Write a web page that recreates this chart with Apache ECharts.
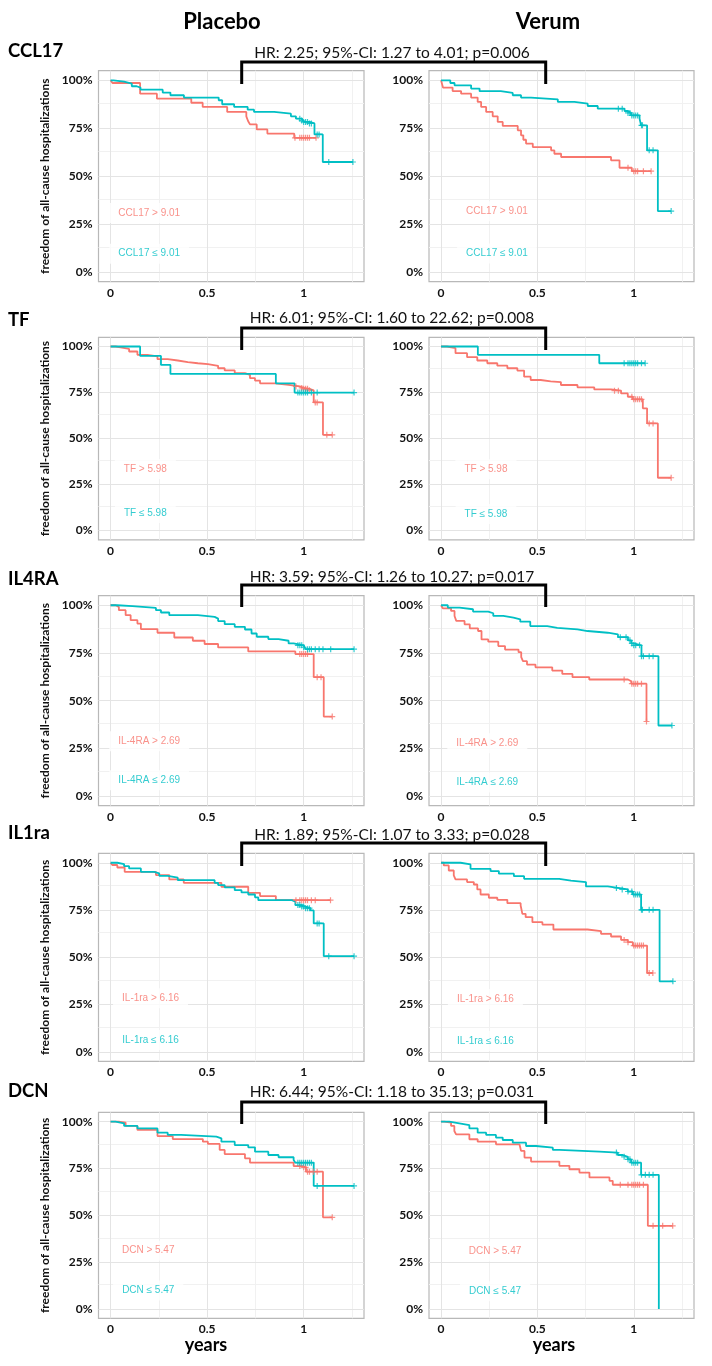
<!DOCTYPE html>
<html>
<head>
<meta charset="utf-8">
<script src="https://cdn.jsdelivr.net/npm/echarts@6/dist/echarts.min.js"></script>
<style>
html,body{margin:0;padding:0;background:#fff;}
#chart{width:712px;height:1366px;}
</style>
</head>
<body>
<div id="chart"></div>
<script>
// ---------- text / categories ----------
const columnTitles = ['Placebo', 'Verum'];
const markerNames = ['CCL17', 'TF', 'IL4RA', 'IL1ra', 'DCN'];
const hrLabels = [
  'HR: 2.25; 95%-CI: 1.27 to 4.01; p=0.006',
  'HR: 6.01; 95%-CI: 1.60 to 22.62; p=0.008',
  'HR: 3.59; 95%-CI: 1.26 to 10.27; p=0.017',
  'HR: 1.89; 95%-CI: 1.07 to 3.33; p=0.028',
  'HR: 6.44; 95%-CI: 1.18 to 35.13; p=0.031'
];
const highLabels = ['CCL17 > 9.01', 'TF > 5.98', 'IL-4RA > 2.69', 'IL-1ra > 6.16', 'DCN > 5.47'];
const lowLabels = ['CCL17 \u2264 9.01', 'TF \u2264 5.98', 'IL-4RA \u2264 2.69', 'IL-1ra \u2264 6.16', 'DCN \u2264 5.47'];
const yAxisTitle = 'freedom of all-cause hospitalizations';
const xAxisTitle = 'years';
const xTicks = [0, 0.5, 1];
const yTicks = [0, 0.25, 0.5, 0.75, 1];
const xMinorGrid = [0.25, 0.75, 1.25];
const yMinorGrid = [0.125, 0.375, 0.625, 0.875];

// ---------- survival curves [years, survival] ----------
const ccl17PlaceboHigh = [[0,1],[0.01,0.986],[0.153,0.93],[0.24,0.904],[0.418,0.883],[0.477,0.861],[0.604,0.835],[0.703,0.812],[0.712,0.788],[0.722,0.77],[0.757,0.744],[0.812,0.722],[0.951,0.70],[1.064,0.70]];
const ccl17PlaceboHighCens = [0.955,0.98,0.99,1.0,1.01,1.02,1.03,1.064];
const ccl17PlaceboLow = [[0,1],[0.015,0.993],[0.07,0.983],[0.11,0.969],[0.135,0.962],[0.155,0.951],[0.27,0.936],[0.31,0.922],[0.38,0.91],[0.56,0.896],[0.578,0.875],[0.64,0.861],[0.71,0.847],[0.743,0.835],[0.847,0.826],[0.934,0.812],[0.96,0.80],[0.99,0.79],[1.0,0.783],[1.03,0.775],[1.056,0.718],[1.099,0.574],[1.255,0.574]];
const ccl17PlaceboLowCens = [0.98,0.99,1.0,1.01,1.02,1.03,1.04,1.07,1.08,1.13,1.255];
const ccl17VerumHigh = [[0,1],[0.01,0.962],[0.06,0.944],[0.104,0.93],[0.156,0.91],[0.19,0.887],[0.208,0.861],[0.234,0.835],[0.268,0.812],[0.294,0.783],[0.32,0.762],[0.398,0.739],[0.415,0.713],[0.427,0.69],[0.441,0.67],[0.476,0.652],[0.571,0.635],[0.588,0.617],[0.623,0.60],[0.882,0.583],[0.926,0.544],[0.99,0.526],[1.09,0.526]];
const ccl17VerumHighCens = [0.97,1.0,1.01,1.02,1.05,1.09];
const ccl17VerumLow = [[0,1],[0.048,0.986],[0.07,0.974],[0.156,0.957],[0.2,0.943],[0.31,0.934],[0.372,0.922],[0.415,0.91],[0.467,0.90],[0.606,0.887],[0.692,0.878],[0.761,0.866],[0.813,0.852],[0.952,0.84],[0.969,0.83],[0.986,0.817],[1.03,0.80],[1.038,0.765],[1.069,0.635],[1.125,0.318],[1.194,0.318]];
const ccl17VerumLowCens = [0.92,0.94,0.97,0.98,0.99,1.0,1.01,1.02,1.04,1.045,1.08,1.1,1.194];

const tfPlaceboHigh = [[0,1],[0.026,0.995],[0.052,0.987],[0.096,0.973],[0.139,0.955],[0.191,0.946],[0.243,0.931],[0.296,0.924],[0.348,0.915],[0.4,0.909],[0.452,0.904],[0.504,0.895],[0.557,0.882],[0.591,0.87],[0.643,0.855],[0.696,0.846],[0.722,0.828],[0.748,0.815],[0.774,0.80],[0.852,0.792],[0.922,0.783],[0.98,0.775],[1.0,0.77],[1.03,0.762],[1.052,0.696],[1.10,0.52],[1.148,0.52]];
const tfPlaceboHighCens = [0.96,0.99,1.0,1.01,1.02,1.03,1.06,1.07,1.12,1.148];
const tfPlaceboLow = [[0,1],[0.153,0.949],[0.261,0.90],[0.31,0.851],[0.856,0.80],[0.953,0.75],[1.261,0.75]];
const tfPlaceboLowCens = [0.97,0.98,0.99,1.0,1.01,1.02,1.04,1.07,1.261];
const tfVerumHigh = [[0,1],[0.031,0.991],[0.075,0.964],[0.135,0.942],[0.188,0.924],[0.24,0.909],[0.292,0.896],[0.344,0.882],[0.396,0.869],[0.431,0.836],[0.465,0.818],[0.517,0.811],[0.569,0.807],[0.622,0.791],[0.708,0.778],[0.795,0.767],[0.882,0.76],[0.934,0.745],[0.969,0.727],[0.995,0.713],[1.047,0.664],[1.069,0.582],[1.125,0.287],[1.194,0.287]];
const tfVerumHighCens = [0.9,0.92,0.99,1.0,1.01,1.02,1.03,1.04,1.08,1.1,1.194];
const tfVerumLow = [[0,1],[0.191,0.955],[0.821,0.909],[1.059,0.909]];
const tfVerumLowCens = [0.95,0.97,0.98,0.99,1.0,1.01,1.02,1.04,1.059];

const il4raPlaceboHigh = [[0,1],[0.026,0.991],[0.043,0.974],[0.078,0.948],[0.104,0.922],[0.139,0.904],[0.157,0.875],[0.243,0.856],[0.33,0.831],[0.426,0.814],[0.487,0.797],[0.557,0.779],[0.713,0.758],[0.957,0.744],[1.052,0.623],[1.104,0.417],[1.148,0.417]];
const il4raPlaceboHighCens = [0.98,0.99,1.0,1.01,1.02,1.07,1.09,1.148];
const il4raPlaceboLow = [[0,1],[0.035,0.995],[0.113,0.986],[0.235,0.974],[0.261,0.962],[0.304,0.948],[0.452,0.939],[0.539,0.93],[0.557,0.917],[0.591,0.901],[0.643,0.887],[0.696,0.873],[0.73,0.852],[0.757,0.835],[0.817,0.823],[0.87,0.814],[0.922,0.80],[0.948,0.79],[1.0,0.78],[1.01,0.77],[1.261,0.77]];
const il4raPlaceboLowCens = [0.97,0.98,0.99,1.0,1.02,1.03,1.04,1.06,1.08,1.1,1.14,1.261];
const il4raVerumHigh = [[0,1],[0.009,0.984],[0.052,0.97],[0.07,0.944],[0.079,0.918],[0.122,0.9],[0.149,0.879],[0.192,0.865],[0.21,0.821],[0.245,0.809],[0.297,0.786],[0.332,0.768],[0.402,0.754],[0.416,0.728],[0.425,0.707],[0.446,0.689],[0.49,0.675],[0.577,0.658],[0.629,0.64],[0.682,0.623],[0.769,0.611],[0.97,0.602],[0.987,0.589],[1.066,0.391]];
const il4raVerumHighCens = [0.95,0.99,1.0,1.01,1.02,1.04,1.066];
const il4raVerumLow = [[0,1],[0.035,0.988],[0.096,0.979],[0.166,0.967],[0.245,0.958],[0.271,0.944],[0.323,0.935],[0.376,0.926],[0.411,0.914],[0.463,0.891],[0.551,0.882],[0.603,0.874],[0.708,0.865],[0.76,0.856],[0.865,0.847],[0.918,0.833],[0.97,0.816],[0.987,0.80],[1.0,0.79],[1.04,0.733],[1.128,0.37],[1.198,0.37]];
const il4raVerumLowCens = [0.93,0.96,0.98,0.99,1.0,1.01,1.03,1.04,1.05,1.08,1.1,1.198];

const il1raPlaceboHigh = [[0,1],[0.009,0.988],[0.035,0.975],[0.073,0.952],[0.235,0.935],[0.304,0.912],[0.379,0.894],[0.574,0.873],[0.713,0.841],[0.774,0.824],[0.856,0.802],[1.139,0.802]];
const il1raPlaceboHighCens = [0.96,0.98,0.99,1.0,1.01,1.02,1.04,1.06,1.139];
const il1raPlaceboLow = [[0,1],[0.035,0.993],[0.07,0.982],[0.096,0.97],[0.157,0.952],[0.226,0.944],[0.252,0.931],[0.296,0.921],[0.348,0.908],[0.539,0.894],[0.557,0.882],[0.591,0.87],[0.643,0.855],[0.678,0.843],[0.713,0.832],[0.748,0.817],[0.765,0.802],[0.939,0.794],[0.957,0.776],[0.99,0.768],[1.01,0.76],[1.035,0.748],[1.052,0.679],[1.104,0.506],[1.261,0.506]];
const il1raPlaceboLowCens = [0.97,0.98,0.99,1.0,1.01,1.02,1.03,1.07,1.08,1.13,1.261];
const il1raVerumHigh = [[0,1],[0.014,0.986],[0.04,0.959],[0.066,0.933],[0.075,0.912],[0.135,0.898],[0.17,0.885],[0.188,0.859],[0.205,0.832],[0.248,0.815],[0.292,0.804],[0.344,0.786],[0.413,0.774],[0.422,0.73],[0.439,0.712],[0.474,0.686],[0.526,0.673],[0.583,0.647],[0.76,0.638],[0.83,0.624],[0.882,0.61],[0.934,0.592],[0.969,0.58],[0.995,0.562],[1.069,0.417],[1.099,0.417]];
const il1raVerumHighCens = [0.95,0.97,1.0,1.01,1.02,1.03,1.04,1.05,1.08,1.099];
const il1raVerumLow = [[0,1],[0.101,0.991],[0.153,0.968],[0.257,0.956],[0.3,0.942],[0.378,0.929],[0.431,0.915],[0.613,0.906],[0.674,0.898],[0.752,0.875],[0.865,0.867],[0.917,0.859],[0.969,0.848],[0.995,0.832],[1.038,0.751],[1.134,0.373],[1.203,0.373]];
const il1raVerumLowCens = [0.91,0.94,0.97,0.99,1.0,1.01,1.02,1.03,1.04,1.045,1.08,1.1,1.203];

const dcnPlaceboHigh = [[0,1],[0.043,0.995],[0.078,0.977],[0.139,0.956],[0.243,0.923],[0.322,0.907],[0.478,0.893],[0.504,0.881],[0.565,0.849],[0.591,0.827],[0.696,0.804],[0.722,0.781],[0.948,0.763],[0.991,0.756],[1.012,0.733],[1.10,0.489],[1.148,0.489]];
const dcnPlaceboHighCens = [0.98,1.0,1.01,1.02,1.03,1.05,1.07,1.148];
const dcnPlaceboLow = [[0,1],[0.026,0.991],[0.07,0.977],[0.139,0.964],[0.243,0.941],[0.296,0.929],[0.365,0.92],[0.548,0.911],[0.574,0.893],[0.643,0.875],[0.713,0.863],[0.748,0.84],[0.817,0.822],[0.87,0.81],[0.948,0.795],[0.957,0.781],[1.052,0.657],[1.261,0.657]];
const dcnPlaceboLowCens = [0.97,0.98,0.99,1.0,1.01,1.02,1.03,1.04,1.07,1.261];
const dcnVerumHigh = [[0,1],[0.017,0.995],[0.052,0.977],[0.069,0.95],[0.078,0.932],[0.147,0.906],[0.19,0.893],[0.285,0.879],[0.407,0.87],[0.415,0.844],[0.433,0.808],[0.467,0.787],[0.614,0.764],[0.666,0.746],[0.718,0.728],[0.77,0.702],[0.874,0.684],[0.891,0.663],[1.073,0.444],[1.202,0.444]];
const dcnVerumHighCens = [0.93,0.97,0.99,1.0,1.01,1.02,1.03,1.05,1.1,1.15,1.202];
const dcnVerumLow = [[0,1],[0.043,0.991],[0.095,0.982],[0.147,0.964],[0.19,0.941],[0.234,0.929],[0.285,0.915],[0.32,0.902],[0.372,0.888],[0.441,0.87],[0.493,0.861],[0.58,0.849],[0.614,0.84],[0.822,0.835],[0.917,0.822],[0.943,0.812],[0.969,0.799],[0.986,0.781],[1.038,0.716],[1.13,0]];
const dcnVerumLowCens = [0.91,0.95,0.97,0.98,0.99,1.0,1.01,1.02,1.04,1.06,1.08,1.1];

// ---------- assemble panels (row-major: placebo, verum) ----------
const panelCurves = [
  [ccl17PlaceboHigh, ccl17PlaceboHighCens, ccl17PlaceboLow, ccl17PlaceboLowCens],
  [ccl17VerumHigh, ccl17VerumHighCens, ccl17VerumLow, ccl17VerumLowCens],
  [tfPlaceboHigh, tfPlaceboHighCens, tfPlaceboLow, tfPlaceboLowCens],
  [tfVerumHigh, tfVerumHighCens, tfVerumLow, tfVerumLowCens],
  [il4raPlaceboHigh, il4raPlaceboHighCens, il4raPlaceboLow, il4raPlaceboLowCens],
  [il4raVerumHigh, il4raVerumHighCens, il4raVerumLow, il4raVerumLowCens],
  [il1raPlaceboHigh, il1raPlaceboHighCens, il1raPlaceboLow, il1raPlaceboLowCens],
  [il1raVerumHigh, il1raVerumHighCens, il1raVerumLow, il1raVerumLowCens],
  [dcnPlaceboHigh, dcnPlaceboHighCens, dcnPlaceboLow, dcnPlaceboLowCens],
  [dcnVerumHigh, dcnVerumHighCens, dcnVerumLow, dcnVerumLowCens]
];

// ---------- layout (pixels / label anchors) ----------
const RED = '#F8766D', CYAN = '#00BFC4';
const colLeft = [98.5, 429];
const colWidth = [265.5, 265];
const rowTop = [70.7, 337.3, 595.7, 853.3, 1112.3];
const rowHeight = [211, 202.5, 210, 208, 206];
const rowLabelY = [51, 320, 579, 833, 1091];
const hrTextY = [53, 318, 577, 835, 1092];
const bracketTop = [62, 328, 585, 843, 1102];
const bracketBottom = [84, 350, 607, 866, 1124];
// per panel: [x, yHigh, yLow] in data units
const labelAnchor = [
  [0.2, 0.308, 0.096], [0.29, 0.317, 0.097],
  [0.18, 0.335, 0.095], [0.233, 0.333, 0.09],
  [0.2, 0.287, 0.083], [0.24, 0.277, 0.072],
  [0.207, 0.283, 0.062], [0.23, 0.279, 0.058],
  [0.195, 0.311, 0.098], [0.28, 0.307, 0.094]
];

const BOLD_FONT = 'Lato';
const PLUS = 'path://M4,0h2v4h4v2h-4v4h-2v-4h-4v-2h4z';

function survAt(curve, t) {
  let s = curve[0][1];
  for (const p of curve) { if (p[0] <= t + 1e-9) s = p[1]; else break; }
  return s;
}

const grids = [], xAxes = [], yAxes = [], series = [];
for (let i = 0; i < 10; i++) {
  const r = Math.floor(i / 2), c = i % 2;
  grids.push({
    left: colLeft[c], top: rowTop[r], width: colWidth[c], height: rowHeight[r],
    show: true, borderColor: '#b8b8b8', borderWidth: 1.2, backgroundColor: '#fff', containLabel: false
  });
  xAxes.push({
    type: 'value', gridIndex: i, min: -0.0625, max: 1.3125,
    splitLine: { show: false }, axisLine: { show: false },
    axisTick: { show: true, customValues: xTicks, length: 3, lineStyle: { color: '#b8b8b8' } },
    axisLabel: { customValues: xTicks, margin: 5, color: '#111', fontFamily: BOLD_FONT, fontWeight: 'bold', fontSize: 12 }
  });
  yAxes.push({
    type: 'value', gridIndex: i, min: -0.05, max: 1.05,
    splitLine: { show: false }, axisLine: { show: false },
    axisTick: { show: true, customValues: yTicks, length: 3, lineStyle: { color: '#b8b8b8' } },
    axisLabel: { customValues: yTicks, margin: 6, color: '#111', fontFamily: BOLD_FONT, fontWeight: 'bold', fontSize: 12,
      formatter: v => Math.round(v * 100) + '%' },
    name: c === 0 ? yAxisTitle : '', nameLocation: 'middle', nameGap: 47,
    nameTextStyle: { fontFamily: BOLD_FONT, fontWeight: 'bold', fontSize: 12, color: '#111' }
  });
  // grid lines
  const gl = [];
  xMinorGrid.forEach(v => gl.push({ xAxis: v, lineStyle: { color: '#f1f1f1' } }));
  yMinorGrid.forEach(v => gl.push({ yAxis: v, lineStyle: { color: '#f1f1f1' } }));
  xTicks.forEach(v => gl.push({ xAxis: v, lineStyle: { color: '#e4e4e4' } }));
  yTicks.forEach(v => gl.push({ yAxis: v, lineStyle: { color: '#e4e4e4' } }));
  series.push({
    type: 'line', xAxisIndex: i, yAxisIndex: i, data: [], silent: true, z: 1,
    markLine: { silent: true, z: 1, symbol: ['none', 'none'], label: { show: false },
      lineStyle: { type: 'solid', width: 1 }, data: gl, animation: false }
  });
  const [hi, hiC, lo, loC] = panelCurves[i];
  const la = labelAnchor[i];
  // group labels
  [[highLabels[r], la[1], RED], [lowLabels[r], la[2], CYAN]].forEach(([txt, y, col]) => {
    series.push({
      type: 'scatter', xAxisIndex: i, yAxisIndex: i, silent: true, z: 2,
      symbolSize: 1, itemStyle: { color: 'rgba(0,0,0,0)' },
      data: [[la[0], y]],
      label: { show: true, position: 'inside', formatter: txt, color: col,
        fontFamily: 'Liberation Sans', fontSize: 10, backgroundColor: '#fff', padding: [5, 9] }
    });
  });
  // curves
  [[hi, hiC, RED], [lo, loC, CYAN]].forEach(([curve, cens, col]) => {
    series.push({
      type: 'line', xAxisIndex: i, yAxisIndex: i, data: curve, step: 'end',
      showSymbol: false, symbol: 'none', z: 3, lineStyle: { color: col, width: 1.8 }, itemStyle: { color: col }
    });
    series.push({
      type: 'scatter', xAxisIndex: i, yAxisIndex: i, z: 4, symbol: PLUS, symbolSize: 6,
      itemStyle: { color: col },
      data: cens.map(t => [t, survAt(curve, t)])
    });
  });
}

// ---------- decoration ----------
const graphics = [];
const titleX = [222, 548];
columnTitles.forEach((t, c) => graphics.push({ type: 'text', style: { text: t, x: titleX[c], y: 22, align: 'center', verticalAlign: 'middle',
  fontFamily: BOLD_FONT, fontWeight: 'bold', fontSize: 22, fill: '#000' } }));
markerNames.forEach((t, r) => {
  graphics.push({ type: 'text', style: { text: t, x: 8, y: rowLabelY[r], align: 'left', verticalAlign: 'middle',
    fontFamily: BOLD_FONT, fontWeight: 'bold', fontSize: 18.5, fill: '#000' } });
  graphics.push({ type: 'text', style: { text: hrLabels[r], x: 392, y: hrTextY[r], align: 'center', verticalAlign: 'middle',
    fontFamily: BOLD_FONT, fontSize: 15.5, fill: '#111' } });
  graphics.push({ type: 'polyline', shape: { points: [[241.7, bracketBottom[r]], [241.7, bracketTop[r]], [545.7, bracketTop[r]], [545.7, bracketBottom[r]]] },
    style: { stroke: '#000', lineWidth: 3, fill: null }, z: 10 });
});
[206, 554].forEach(x => graphics.push({ type: 'text', style: { text: xAxisTitle, x: x, y: 1345, align: 'center', verticalAlign: 'middle',
  fontFamily: BOLD_FONT, fontWeight: 'bold', fontSize: 18, fill: '#000' } }));

const chart = echarts.init(document.getElementById('chart'), null, { renderer: 'canvas' });
chart.setOption({
  animation: false,
  backgroundColor: '#fff',
  grid: grids, xAxis: xAxes, yAxis: yAxes, series: series, graphic: graphics
});
</script>
</body>
</html>
